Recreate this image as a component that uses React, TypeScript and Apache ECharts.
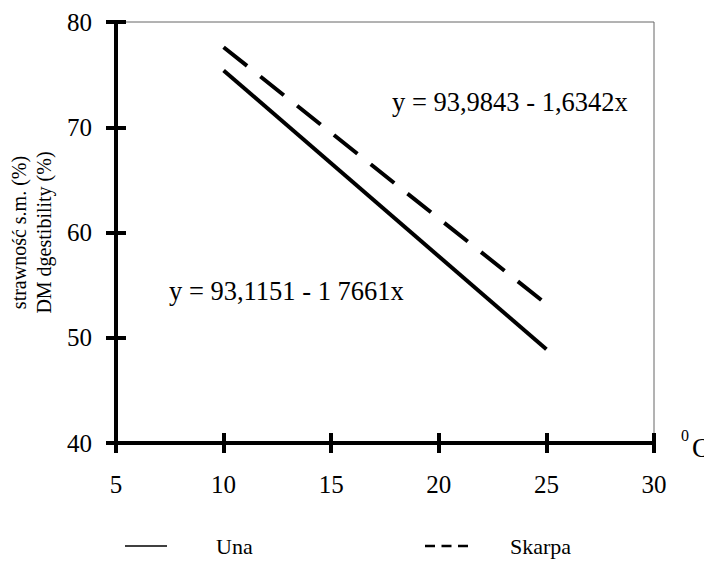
import React, { useEffect, useRef } from "react";
import * as echarts from "echarts";

const xTicks = [5, 10, 15, 20, 25, 30];
const yTicks = [40, 50, 60, 70, 80];
const unaX = [10, 25];
const unaY = [75.4, 48.9];
const skarpaX = [10, 25];
const skarpaY = [77.6, 53.2];
const seriesNames = ["Una", "Skarpa"];
const eqSkarpa = "y = 93,9843 - 1,6342x";
const eqUna = "y = 93,1151 - 1 7661x";
const yName = "strawność s.m. (%)\nDM dgestibility (%)";

const FONT = "'Liberation Serif', 'Times New Roman', serif";

export default function App() {
  const ref = useRef<HTMLDivElement>(null);
  useEffect(() => {
    if (!ref.current) return;
    const chart = echarts.init(ref.current, null, { renderer: "svg" });
    const xMin = xTicks[0];
    const xMax = xTicks[xTicks.length - 1];
    const yMin = yTicks[0];
    const yMax = yTicks[yTicks.length - 1];
    const xBase = {
      type: "value" as const,
      min: xMin,
      max: xMax,
      interval: 5,
      position: "bottom" as const,
      splitLine: { show: false },
    };
    const yBase = {
      type: "value" as const,
      min: yMin,
      max: yMax,
      interval: 10,
      position: "left" as const,
      splitLine: { show: false },
    };
    chart.setOption({
      animation: false,
      backgroundColor: "#fff",
      textStyle: { fontFamily: FONT, color: "#000" },
      grid: {
        left: 116,
        top: 22,
        right: 58,
        bottom: 128,
        containLabel: false,
        outerBoundsMode: "none",
        show: true,
        borderColor: "#666",
        borderWidth: 1,
      },
      xAxis: [
        {
          ...xBase,
          axisLine: { show: true, onZero: false, lineStyle: { color: "#000", width: 4 } },
          axisTick: { show: true, inside: false, length: 10, lineStyle: { color: "#000", width: 4 } },
          axisLabel: { fontFamily: FONT, fontSize: 25, color: "#000", margin: 29 },
          name: "{s|0}{c|C}",
          nameLocation: "end",
          nameGap: 27,
          nameTextStyle: {
            fontFamily: FONT,
            rich: {
              s: { fontFamily: FONT, fontSize: 16, color: "#000", padding: [0, 3, 16, 0] },
              c: { fontFamily: FONT, fontSize: 27, color: "#000", padding: [10, 0, 0, 0] },
            },
          },
        },
        {
          ...xBase,
          axisLine: { show: false, onZero: false },
          axisTick: { show: true, inside: true, length: 10, lineStyle: { color: "#000", width: 4 } },
          axisLabel: { show: false },
        },
      ],
      yAxis: [
        {
          ...yBase,
          axisLine: { show: true, onZero: false, lineStyle: { color: "#000", width: 4 } },
          axisTick: { show: true, inside: false, length: 10, lineStyle: { color: "#000", width: 4 } },
          axisLabel: { fontFamily: FONT, fontSize: 25, color: "#000", margin: 24 },
          name: yName,
          nameLocation: "middle",
          nameGap: 60,
          nameTextStyle: { fontFamily: FONT, fontSize: 20, color: "#000", lineHeight: 25 },
        },
        {
          ...yBase,
          axisLine: { show: false, onZero: false },
          axisTick: { show: true, inside: true, length: 10, lineStyle: { color: "#000", width: 4 } },
          axisLabel: { show: false },
        },
      ],
      legend: [
        {
          left: 120,
          top: 530,
          itemWidth: 42,
          itemHeight: 1.5,
          data: [
            {
              name: seriesNames[0],
              icon: "path://M0,0h42v1.5h-42z",
              itemStyle: { color: "#000" },
            },
          ],
          textStyle: { fontFamily: FONT, fontSize: 22, color: "#000", padding: [0, 0, 0, 44] },
        },
        {
          left: 420,
          top: 530,
          itemWidth: 43,
          itemHeight: 2.5,
          data: [
            {
              name: seriesNames[1],
              icon: "path://M0,0h10v2.5h-10z M16.5,0h10v2.5h-10z M33,0h10v2.5h-10z",
              itemStyle: { color: "#000" },
            },
          ],
          textStyle: { fontFamily: FONT, fontSize: 22, color: "#000", padding: [0, 0, 0, 37] },
        },
      ],
      series: [
        {
          name: seriesNames[0],
          type: "line",
          xAxisIndex: 0,
          yAxisIndex: 0,
          symbol: "none",
          data: unaX.map((x, i) => [x, unaY[i]]),
          lineStyle: { color: "#000", width: 4, type: "solid" },
          itemStyle: { color: "#000" },
        },
        {
          name: seriesNames[1],
          type: "line",
          xAxisIndex: 0,
          yAxisIndex: 0,
          symbol: "none",
          data: skarpaX.map((x, i) => [x, skarpaY[i]]),
          lineStyle: { color: "#000", width: 4, type: [30, 17] },
          itemStyle: { color: "#000" },
        },
      ],
      graphic: [
        {
          type: "text",
          left: 392,
          top: 88,
          style: { text: eqSkarpa, fontFamily: FONT, fontSize: 26.5, fill: "#000" },
        },
        {
          type: "text",
          left: 169,
          top: 277,
          style: { text: eqUna, fontFamily: FONT, fontSize: 26.5, fill: "#000" },
        },
      ],
    });
    return () => chart.dispose();
  }, []);
  return <div ref={ref} style={{ width: 712, height: 571, margin: -8 }} />;
}
